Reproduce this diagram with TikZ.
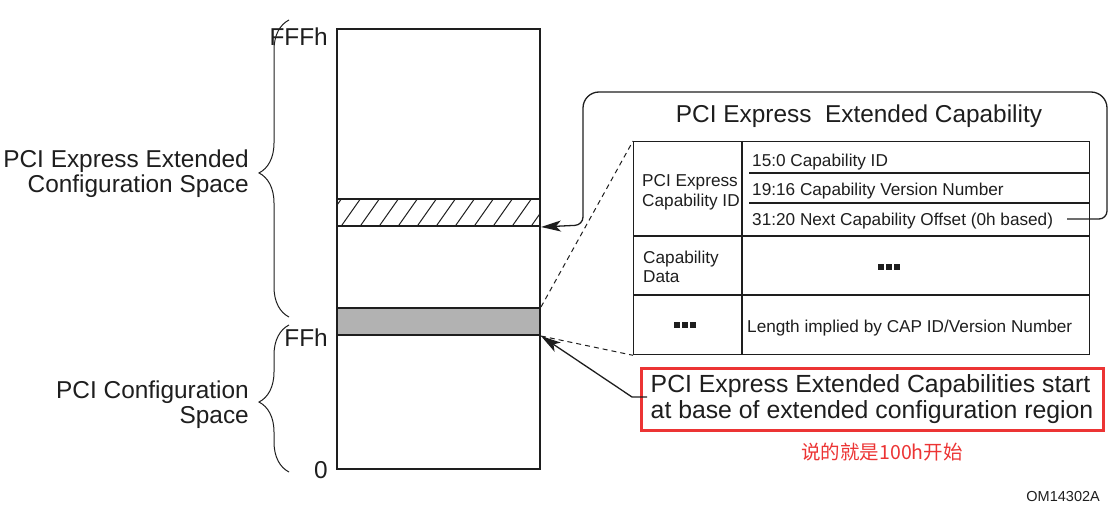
\documentclass[tikz,border=0pt]{standalone}
\usepackage{fontspec}
\setmainfont{Liberation Sans}
\newfontfamily\cjkfont{Noto Sans CJK SC}
\usetikzlibrary{arrows.meta,decorations.pathreplacing,calc}
\definecolor{notered}{RGB}{236,52,52}
\definecolor{bandgray}{RGB}{178,178,178}
\definecolor{inkc}{RGB}{30,30,30}
\begin{document}
\begin{tikzpicture}[x=1pt,y=-1pt,
  big/.style={font=\fontsize{24.4}{25}\selectfont, inner sep=0pt, text=inkc},
  small/.style={font=\fontsize{17.2}{19.5}\selectfont, inner sep=0pt, text=inkc},
  thickline/.style={line width=2pt, draw=inkc},
  tab/.style={line width=1.3pt, draw=inkc},
  dashedline/.style={dash pattern=on 5pt off 4pt, line width=1pt, draw=inkc},
  arrowtip/.style={-{Stealth[length=20pt,width=11pt,inset=5pt]}, line width=1.3pt, draw=inkc, fill=none},
  bracestyle/.style={decorate, decoration={brace, amplitude=30pt, aspect=#1}, line width=1pt, draw=inkc},
  band/.style={thickline, minimum width=203pt, minimum height=27pt, anchor=north west, inner sep=0pt},
]
\useasboundingbox (0,0) rectangle (1116,524);

% memory column
\node[thickline, draw, minimum width=203pt, minimum height=440pt, anchor=north west, inner sep=0pt] (col) at (336,28) {};
\begin{scope}
  \clip (336,198) rectangle (539,225);
  \foreach \x in {323,342,...,560} \draw[line width=1pt, inkc] (\x,225) -- ({\x+19},198);
\end{scope}
\node[band, draw] (ext) at (336,198) {};
\node[band, draw, fill=bandgray] (base) at (336,307) {};

% address labels
\node[big, anchor=base east] (lfff) at (328,46) {FFFh};
\node[big, anchor=base east] (lff) at (328,346) {FFh};
\node[big, anchor=base east] (lzero) at (328,478) {0};

% braces
\draw[bracestyle=0.485] (289,317) -- (289,20);
\draw[bracestyle=0.476] (289,472) -- (289,325);
\node[big, align=right, anchor=north east] (lext) at (249,149.3) {PCI Express Extended\\Configuration Space};
\node[big, align=right, anchor=north east] (lpci) at (249,380.5) {PCI Configuration\\Space};

% capability structure
\node[big, anchor=base] (title) at (859,123) {PCI Express\ \ Extended Capability};
\node[tab, draw, minimum width=456pt, minimum height=213pt, anchor=north west, inner sep=0pt] (tbl) at (633,141) {};
\draw[tab] (742,141) -- (742,354);
\draw[tab] (633,236) -- (1089,236);
\draw[tab] (633,295) -- (1089,295);
\draw[tab] (749,173) -- (1089,173);
\draw[tab] (749,203) -- (1089,203);

\node[small, anchor=base west] (r1) at (752,166) {15:0 Capability ID};
\node[small, anchor=base west] (r2) at (752,195) {19:16 Capability Version Number};
\node[small, anchor=base west] (r3) at (752,225) {31:20 Next Capability Offset (0h based)};
\node[small, align=left, anchor=north west] (pcid) at (642,174.5) {PCI Express\\Capability ID};
\node[small, align=left, anchor=north west] (cdata) at (643,250.5) {Capability\\Data};
\node[small, anchor=base west] (len) at (747,332) {Length implied by CAP ID/Version Number};
\foreach \x in {878,886,894} \fill[inkc] (\x,264) rectangle +(6,6);
\foreach \x in {674,682,690} \fill[inkc] (\x,322) rectangle +(6,6);

% next capability pointer
\coordinate (nxt) at (1067,219);
\draw[arrowtip, rounded corners=8pt] (nxt) -- (1107,219) [rounded corners=16pt] -- (1107,92) -- (583,92) [rounded corners=8pt] -- (583,225) -- (ext.south east);

% dashed projection
\draw[dashedline] (base.north east) -- (tbl.north west);
\draw[dashedline] (base.south east) -- (tbl.south west);

% note
\node[draw=notered, line width=3pt, minimum width=462pt, minimum height=62pt, inner sep=0pt, text=inkc, font=\fontsize{24.8}{25.5}\selectfont, align=left] (note) at (872,399) {PCI Express Extended Capabilities start\\at base of extended configuration region};
\coordinate (k0) at (647,397);
\coordinate (k1) at (632,397);
\draw[arrowtip] (k0) -- (k1) -- (base.south east);

\node[font=\cjkfont\fontsize{19.5}{20}\selectfont, text=notered, inner sep=0pt] (cn) at (882,452) {说的就是100h开始};
\node[font=\fontsize{14.5}{15}\selectfont, anchor=east, inner sep=0pt, text=inkc] (om) at (1100,497) {OM14302A};
\end{tikzpicture}
\end{document}
